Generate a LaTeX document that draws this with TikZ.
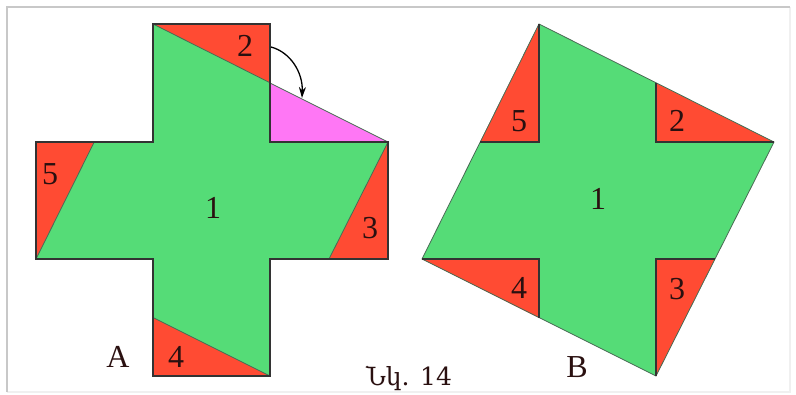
\documentclass[tikz,border=0pt]{standalone}
\usepackage{fontspec}
\setmainfont{Liberation Serif}
\newfontfamily\armfont{DejaVu Serif}
\usetikzlibrary{arrows.meta}
\definecolor{fgreen}{HTML}{55DC77}
\definecolor{fred}{HTML}{FF4B33}
\definecolor{fmag}{HTML}{FF77F5}
\definecolor{edge}{HTML}{333333}
\definecolor{thinedge}{HTML}{4A6A55}
\definecolor{labtxt}{HTML}{2A1010}
\definecolor{framegray}{HTML}{C8C8C8}
\definecolor{framelight}{HTML}{F0F0F0}
\tikzset{
  lab/.style={text=labtxt, font=\fontsize{32}{34}\selectfont, inner sep=0pt},
  captiontext/.style={text=labtxt, font=\armfont\fontsize{25}{30}\selectfont, inner sep=0pt},
  crossedge/.style={draw=edge, line width=1.4pt, line join=miter},
  diagedge/.style={draw=thinedge, line width=0.8pt},
  turnarrow/.style={draw=black, line width=1.3pt, -{Stealth[length=11pt,width=7pt]}}
}
\begin{document}
\begin{tikzpicture}[x=1pt,y=-1pt]
\useasboundingbox (0,0) rectangle (796,394);
% frame
\draw[framelight, line width=1.5pt] (790,7) -- (790,392) -- (7,392);
\draw[framegray, line width=2pt] (7,392) -- (7,7) -- (790,7);

% ---------- Figure A ----------
\path[fill=fred] (153,24) -- (270,24) -- (270,142) -- (388,142) -- (388,259) -- (270,259) -- (270,376) -- (153,376) -- (153,259) -- (36,259) -- (36,142) -- (153,142) -- cycle;
\begin{scope}
\clip (153,24) -- (270,24) -- (270,142) -- (388,142) -- (388,259) -- (270,259) -- (270,376) -- (153,376) -- (153,259) -- (36,259) -- (36,142) -- (153,142) -- cycle;
\fill[fgreen] (153,24) -- (388,142) -- (270,376) -- (36,259) -- cycle;
\draw[diagedge] (153,24) -- (388,142) -- (270,376) -- (36,259) -- cycle;
\end{scope}
\fill[fmag] (270,83) -- (388,142) -- (270,142) -- cycle;
\draw[diagedge] (270,83) -- (388,142);
\draw[crossedge] (153,24) -- (270,24) -- (270,142) -- (388,142) -- (388,259) -- (270,259) -- (270,376) -- (153,376) -- (153,259) -- (36,259) -- (36,142) -- (153,142) -- cycle;

\coordinate (arrA) at (271,47);
\coordinate (arrB) at (302,98);
\draw[turnarrow] (arrA) .. controls (290,52) and (303,72) .. (arrB);

\node[lab] (a2) at (245,46) {2};
\node[lab] (a1) at (213,208) {1};
\node[lab] (a3) at (370,228) {3};
\node[lab] (a4) at (176,357) {4};
\node[lab] (a5) at (50,174) {5};
\node[lab] (la) at (118,357) {A};

% ---------- Figure B ----------
\fill[fgreen] (539,24) -- (774,142) -- (656,376) -- (422,259) -- cycle;
\fill[fred] (539,24) -- (539,142) -- (480,142) -- cycle;
\fill[fred] (656,83) -- (656,142) -- (774,142) -- cycle;
\fill[fred] (656,259) -- (715,259) -- (656,376) -- cycle;
\fill[fred] (422,259) -- (539,259) -- (539,318) -- cycle;
\draw[diagedge] (539,24) -- (774,142) -- (656,376) -- (422,259) -- cycle;
\draw[crossedge] (539,24) -- (539,142) -- (480,142);
\draw[crossedge] (656,83) -- (656,142) -- (774,142);
\draw[crossedge] (656,376) -- (656,259) -- (715,259);
\draw[crossedge] (422,259) -- (539,259) -- (539,318);

\node[lab] (b5) at (519,121) {5};
\node[lab] (b2) at (677,121) {2};
\node[lab] (b1) at (598,199) {1};
\node[lab] (b4) at (519,288) {4};
\node[lab] (b3) at (677,289) {3};
\node[lab] (lb) at (577,367) {B};

\node[captiontext] (caption) at (409,378) {Նկ. 14};
\end{tikzpicture}
\end{document}
